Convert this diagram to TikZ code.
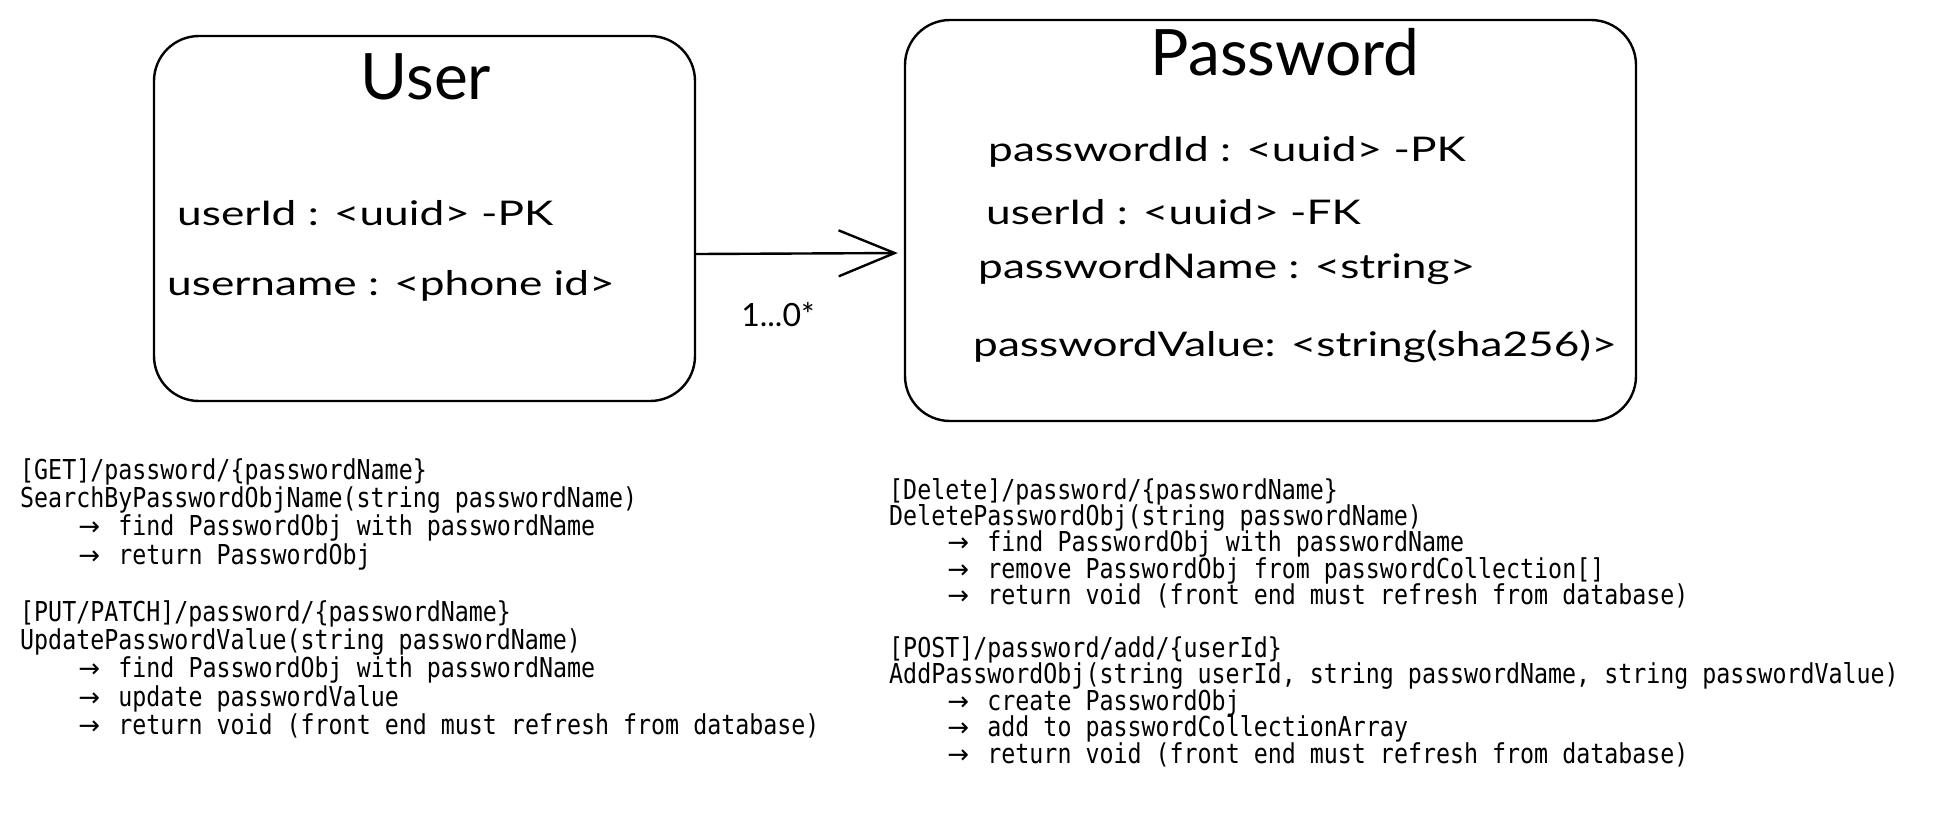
\documentclass[tikz,border=0pt]{standalone}
\usepackage{fontspec}
\usetikzlibrary{arrows.meta}
\newfontfamily\handfont{Lato}
\newfontfamily\attrfont{Lato}[FakeStretch=1.3]
\newfontfamily\codefont{DejaVu Sans Mono}[FakeStretch=0.85]
\newfontfamily\arrowfont{DejaVu Sans}
\newcommand{\callarrow}{\hspace*{56.1pt}\makebox[42.1pt][l]{\hspace*{2pt}{\arrowfont\fontsize{26}{26}\selectfont →}}}
\newcommand{\tightlines}{\lineskiplimit=-50pt\relax}

\begin{document}
\begin{tikzpicture}
    [
        x=1pt, y=-1pt,
        entity/.style={draw, line width=2.4pt, rounded corners=45pt, inner sep=0pt,},
        title/.style={font=\handfont\fontsize{64}{70}\selectfont,},
        attr/.style={anchor=west, inner sep=0pt, font=\attrfont\fontsize{34}{40}\selectfont,},
        api/.style={anchor=north west, align=left, inner sep=0pt,},
        edge/.style={-{Straight Barb[length=56pt, width=46pt, line width=2.4pt]}, line width=2.4pt,},
    ]
    \useasboundingbox (0,0) rectangle (1937,815);

    % entities
    \node (user) at (424.5,218.5)  [entity, minimum width=541pt, minimum height=365pt] {};
    \node (pass) at (1270.5,220.5) [entity, minimum width=731pt, minimum height=401pt] {};

    \node (usertitle) at (426,77)  [title] {User};
    \node (u1) at (177,213) [attr] {userId : <uuid> -PK};
    \node (u2) at (167,286) [attr] {username : <phone id>};

    \node (passtitle) at (1285,52) [title] {Password};
    \node (p1) at (988,152) [attr] {passwordId : <uuid> -PK};
    \node (p2) at (986,212) [attr] {userId : <uuid> -FK};
    \node (p3) at (978,269) [attr] {passwordName : <string>};
    \node (p4) at (973,346) [attr] {passwordValue: <string(sha256)>};

    % relation
    \draw [edge, shorten >=6pt] ([yshift=-35.5pt]user.east) -- ([yshift=-32.5pt]pass.west);
    \node (card) at (778,315) [font=\handfont\fontsize{32}{36}\selectfont] {1...0*};

    % endpoints
    \node (getput) at (20,458) [api, font={\codefont\fontsize{27.4}{28.4}\selectfont\tightlines}]
        {[GET]/password/\{passwordName\}\\
         SearchByPasswordObjName(string passwordName)\\
         \callarrow find PasswordObj with passwordName\\
         \callarrow return PasswordObj\\[28.4pt]
         [PUT/PATCH]/password/\{passwordName\}\\
         UpdatePasswordValue(string passwordName)\\
         \callarrow find PasswordObj with passwordName\\
         \callarrow update passwordValue\\
         \callarrow return void (front end must refresh from database)};
    \node (delpost) at (889,478) [api, font={\codefont\fontsize{27.4}{26.4}\selectfont\tightlines}]
        {[Delete]/password/\{passwordName\}\\
         DeletePasswordObj(string passwordName)\\
         \callarrow find PasswordObj with passwordName\\
         \callarrow remove PasswordObj from passwordCollection[]\\
         \callarrow return void (front end must refresh from database)\\[26.4pt]
         [POST]/password/add/\{userId\}\\
         AddPasswordObj(string userId, string passwordName, string passwordValue)\\
         \callarrow create PasswordObj\\
         \callarrow add to passwordCollectionArray\\
         \callarrow return void (front end must refresh from database)};

\end{tikzpicture}
\end{document}
